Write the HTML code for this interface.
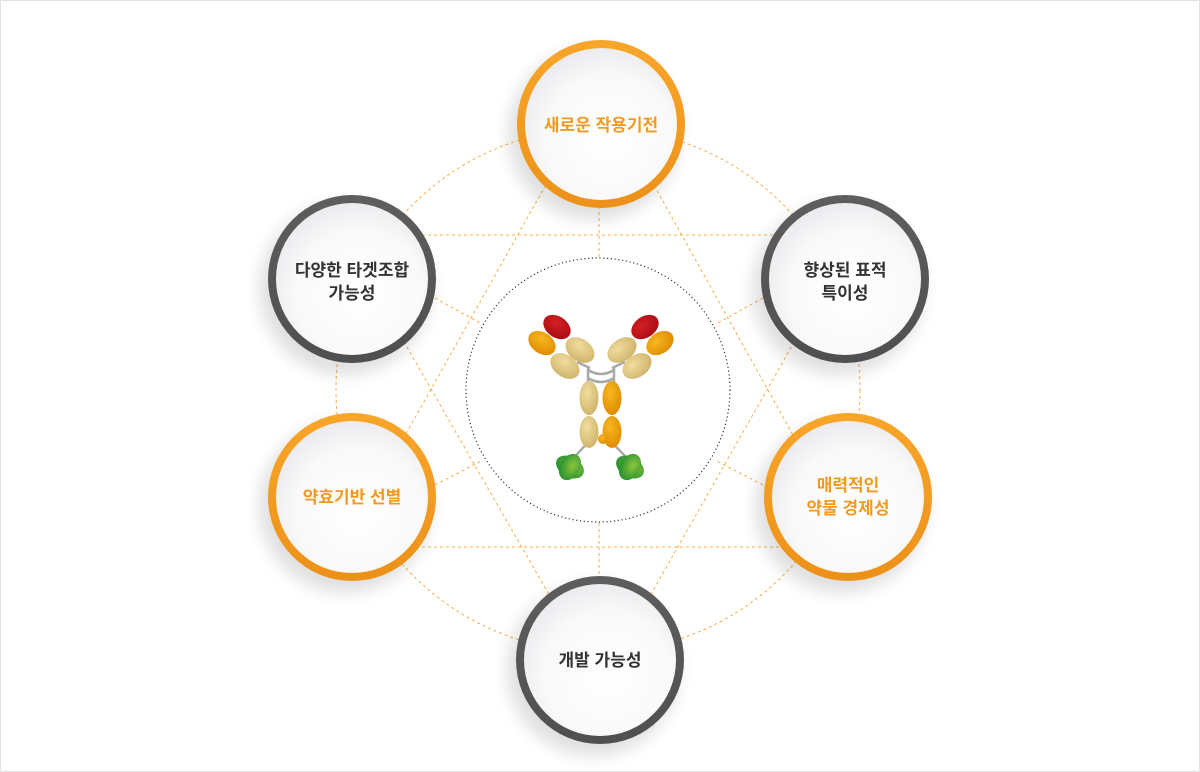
<!DOCTYPE html>
<html><head><meta charset="utf-8"><style>
html,body{margin:0;padding:0;background:#fff;}
body{width:1200px;height:772px;overflow:hidden;}
svg{display:block;}
text{font-family:"Liberation Sans","Noto Sans CJK KR",sans-serif;font-weight:bold;font-size:17px;text-anchor:middle;}
</style></head><body>
<svg width="1200" height="772" viewBox="0 0 1200 772" xmlns="http://www.w3.org/2000/svg">
<defs>
<linearGradient id="og" x1="0" y1="0" x2="0" y2="1"><stop offset="0" stop-color="#f8a62a"/><stop offset="1" stop-color="#ec9119"/></linearGradient>
<linearGradient id="gg" x1="0" y1="0" x2="0" y2="1"><stop offset="0" stop-color="#5e5e5e"/><stop offset="1" stop-color="#4f4f4f"/></linearGradient>
<radialGradient id="wg" cx="0.55" cy="0.6" r="0.6"><stop offset="0" stop-color="#ffffff"/><stop offset="0.7" stop-color="#f9f9fa"/><stop offset="1" stop-color="#ececef"/></radialGradient>
<filter id="sh" x="-40%" y="-40%" width="180%" height="180%"><feGaussianBlur stdDeviation="8"/></filter>
<radialGradient id="tan" cx="0.4" cy="0.35" r="0.7"><stop offset="0" stop-color="#f0dda0"/><stop offset="1" stop-color="#cfb269"/></radialGradient>
<radialGradient id="org" cx="0.4" cy="0.35" r="0.7"><stop offset="0" stop-color="#f7b820"/><stop offset="1" stop-color="#de8a00"/></radialGradient>
<radialGradient id="red" cx="0.4" cy="0.35" r="0.7"><stop offset="0" stop-color="#d42024"/><stop offset="1" stop-color="#a80c14"/></radialGradient>
<radialGradient id="grn" cx="0.6" cy="0.4" r="0.7"><stop offset="0" stop-color="#8cc63e"/><stop offset="1" stop-color="#1b8a2e"/></radialGradient>
</defs>
<rect x="0.5" y="0.5" width="1199" height="771" fill="#fff" stroke="#e2e2e2"/>
<g stroke="#f5b04a" stroke-width="1" stroke-dasharray="3,3" fill="none">
<circle cx="598" cy="390" r="262"/>
<line x1="380" y1="235" x2="820" y2="235"/>
<line x1="380" y1="547" x2="820" y2="547"/>
<line x1="599" y1="200" x2="599" y2="258"/>
<line x1="599" y1="523" x2="599" y2="580"/>
<line x1="575" y1="133" x2="380" y2="480"/>
<line x1="625" y1="133" x2="818" y2="480"/>
<line x1="380" y1="300" x2="575" y2="640"/>
<line x1="818" y1="300" x2="625" y2="640"/>
<line x1="435" y1="298" x2="482" y2="324"/>
<line x1="763" y1="298" x2="716" y2="324"/>
<line x1="435" y1="485" x2="483" y2="460"/>
<line x1="763" y1="485" x2="715" y2="460"/>
</g>
<circle cx="598" cy="390" r="132" fill="#fff" stroke="#333" stroke-width="1.2" stroke-dasharray="1.2,2.6"/>
<g id="circles">
<g><circle cx="594" cy="134" r="86" fill="#000" opacity="0.12" filter="url(#sh)"/><circle cx="601" cy="124" r="84" fill="url(#og)"/><circle cx="601" cy="124" r="76" fill="url(#wg)"/><text x="601" y="131" fill="#f39a1e">새로운 작용기전</text></g>
<g><circle cx="345" cy="289" r="86" fill="#000" opacity="0.12" filter="url(#sh)"/><circle cx="352" cy="279" r="84" fill="url(#gg)"/><circle cx="352" cy="279" r="76" fill="url(#wg)"/><text x="352" y="276" fill="#333">다양한 타겟조합</text><text x="352" y="299" fill="#333">가능성</text></g>
<g><circle cx="838" cy="289" r="86" fill="#000" opacity="0.12" filter="url(#sh)"/><circle cx="845" cy="279" r="84" fill="url(#gg)"/><circle cx="845" cy="279" r="76" fill="url(#wg)"/><text x="845" y="276" fill="#333">향상된 표적</text><text x="845" y="299" fill="#333">특이성</text></g>
<g><circle cx="345" cy="507" r="86" fill="#000" opacity="0.12" filter="url(#sh)"/><circle cx="352" cy="497" r="84" fill="url(#og)"/><circle cx="352" cy="497" r="76" fill="url(#wg)"/><text x="352" y="503" fill="#f39a1e">약효기반 선별</text></g>
<g><circle cx="841" cy="507" r="86" fill="#000" opacity="0.12" filter="url(#sh)"/><circle cx="848" cy="497" r="84" fill="url(#og)"/><circle cx="848" cy="497" r="76" fill="url(#wg)"/><text x="848" y="491" fill="#f39a1e">매력적인</text><text x="848" y="514" fill="#f39a1e">약물 경제성</text></g>
<g><circle cx="593" cy="670" r="86" fill="#000" opacity="0.12" filter="url(#sh)"/><circle cx="600" cy="660" r="84" fill="url(#gg)"/><circle cx="600" cy="660" r="76" fill="url(#wg)"/><text x="600" y="666" fill="#333">개발 가능성</text></g>
</g>
<g id="ab">
<g stroke="#a8a8a8" stroke-width="2.5" fill="none">
<path d="M577 362 L590 368"/><path d="M625 362 L612 368"/>
<path d="M588 370 Q601 378 614 370"/><path d="M588 378 Q601 386 614 378"/>
<path d="M588 368 L588 382"/><path d="M614 368 L614 382"/>
<path d="M587 444 Q578 452 573 460"/><path d="M613 444 Q622 452 628 460"/>
</g>
<ellipse cx="557" cy="327" rx="15" ry="10.5" transform="rotate(35 557 327)" fill="url(#red)"/>
<ellipse cx="542" cy="343" rx="15" ry="10.5" transform="rotate(35 542 343)" fill="url(#org)"/>
<ellipse cx="580" cy="350" rx="16" ry="11" transform="rotate(35 580 350)" fill="url(#tan)"/>
<ellipse cx="565" cy="366" rx="16" ry="11" transform="rotate(35 565 366)" fill="url(#tan)"/>
<ellipse cx="645" cy="327" rx="15" ry="10.5" transform="rotate(-35 645 327)" fill="url(#red)"/>
<ellipse cx="660" cy="343" rx="15" ry="10.5" transform="rotate(-35 660 343)" fill="url(#org)"/>
<ellipse cx="622" cy="350" rx="16" ry="11" transform="rotate(-35 622 350)" fill="url(#tan)"/>
<ellipse cx="637" cy="366" rx="16" ry="11" transform="rotate(-35 637 366)" fill="url(#tan)"/>
<ellipse cx="589" cy="398" rx="9.5" ry="17" fill="url(#tan)"/>
<ellipse cx="589" cy="432" rx="9.5" ry="16" fill="url(#tan)"/>
<ellipse cx="612" cy="398" rx="9.5" ry="17" fill="url(#org)"/>
<ellipse cx="612" cy="432" rx="9.5" ry="16" fill="url(#org)"/>
<circle cx="603" cy="439" r="5" fill="url(#org)"/>
<g fill="url(#grn)">
<ellipse cx="570" cy="467" rx="15" ry="10" transform="rotate(30 570 467)"/><ellipse cx="570" cy="467" rx="10" ry="14" transform="rotate(30 570 467)"/>
<ellipse cx="630" cy="467" rx="15" ry="10" transform="rotate(30 630 467)"/><ellipse cx="630" cy="467" rx="10" ry="14" transform="rotate(30 630 467)"/>
</g>
</g>
</svg>
</body></html>
